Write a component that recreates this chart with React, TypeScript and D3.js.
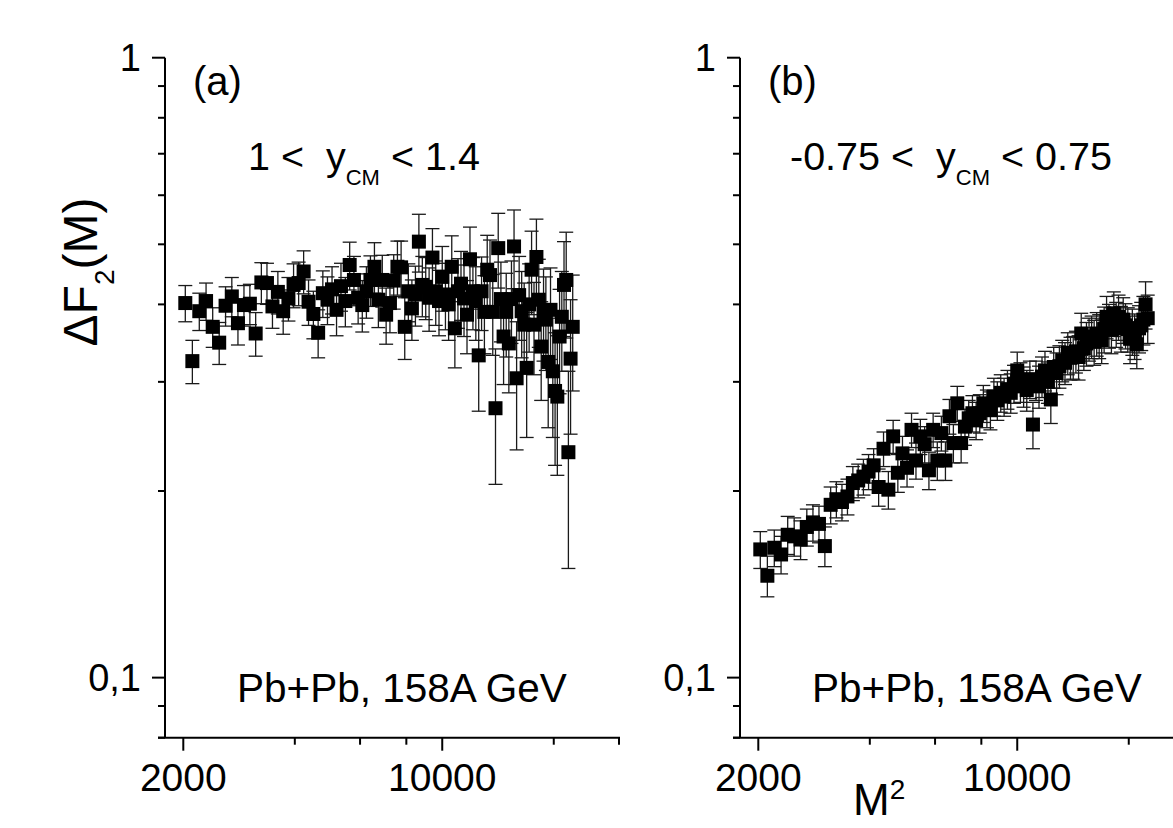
import React from 'react';
import * as d3 from 'd3';

// M values (number of bins); x axis shows M^2
const M_VALUES = [
  45, 46, 47, 48, 49, 50, 51, 52, 53, 54,
  55, 56, 57, 58, 59, 60, 61, 62, 63, 64,
  65, 66, 67, 68, 69, 70, 71, 72, 73, 74,
  75, 76, 77, 78, 79, 80, 81, 82, 83, 84,
  85, 86, 87, 88, 89, 90, 91, 92, 93, 94,
  95, 96, 97, 98, 99, 100, 101, 102, 103, 104,
  105, 106, 107, 108, 109, 110, 111, 112, 113, 114,
  115, 116, 117, 118, 119, 120, 121, 122, 123, 124,
  125, 126, 127, 128, 129, 130, 131, 132, 133, 134,
  135, 136, 137, 138, 139, 140, 141, 142, 143, 144,
  145, 146, 147, 148, 149, 150,
];

// Panel (a): 1 < y_CM < 1.4
const DF2_A = [
  0.402, 0.324, 0.390, 0.405, 0.368, 0.347, 0.398, 0.412, 0.373, 0.399,
  0.401, 0.359, 0.434, 0.433, 0.397, 0.419, 0.390, 0.409, 0.430, 0.433,
  0.452, 0.404, 0.386, 0.360, 0.417, 0.407, 0.423, 0.392, 0.428, 0.405,
  0.463, 0.438, 0.410, 0.399, 0.420, 0.438, 0.460, 0.407, 0.438, 0.385,
  0.402, 0.437, 0.460, 0.459, 0.368, 0.420, 0.394, 0.415, 0.505, 0.430,
  0.427, 0.410, 0.476, 0.420, 0.405, 0.443, 0.415, 0.400, 0.460, 0.366,
  0.420, 0.432, 0.409, 0.385, 0.473, 0.420, 0.405, 0.331, 0.420, 0.389,
  0.455, 0.446, 0.389, 0.272, 0.493, 0.408, 0.355, 0.389, 0.346, 0.408,
  0.496, 0.304, 0.414, 0.390, 0.371, 0.316, 0.400, 0.455, 0.371, 0.477,
  0.407, 0.342, 0.390, 0.378, 0.323, 0.392, 0.312, 0.290, 0.284, 0.355,
  0.382, 0.430, 0.438, 0.231, 0.327, 0.368,
];
const ERR_A = [
  0.027, 0.026, 0.027, 0.028, 0.027, 0.027, 0.029, 0.030, 0.029, 0.030,
  0.030, 0.029, 0.033, 0.033, 0.031, 0.033, 0.032, 0.033, 0.035, 0.035,
  0.036, 0.034, 0.034, 0.032, 0.036, 0.036, 0.037, 0.036, 0.038, 0.037,
  0.041, 0.040, 0.038, 0.038, 0.040, 0.041, 0.043, 0.040, 0.042, 0.040,
  0.042, 0.044, 0.046, 0.047, 0.042, 0.045, 0.044, 0.046, 0.054, 0.048,
  0.049, 0.048, 0.054, 0.050, 0.049, 0.053, 0.051, 0.050, 0.056, 0.050,
  0.054, 0.055, 0.054, 0.052, 0.060, 0.056, 0.055, 0.062, 0.057, 0.056,
  0.062, 0.062, 0.058, 0.067, 0.068, 0.060, 0.058, 0.060, 0.058, 0.062,
  0.072, 0.071, 0.064, 0.062, 0.062, 0.072, 0.065, 0.070, 0.063, 0.072,
  0.066, 0.062, 0.066, 0.065, 0.070, 0.066, 0.068, 0.070, 0.072, 0.068,
  0.070, 0.075, 0.085, 0.081, 0.080, 0.078,
];

// Panel (b): -0.75 < y_CM < 0.75
const DF2_B = [
  0.161, 0.146, 0.162, 0.158, 0.170, 0.169, 0.167, 0.175, 0.178, 0.177,
  0.163, 0.190, 0.194, 0.192, 0.196, 0.206, 0.208, 0.211, 0.215, 0.220,
  0.203, 0.234, 0.201, 0.245, 0.214, 0.230, 0.218, 0.251, 0.224, 0.245,
  0.238, 0.216, 0.251, 0.224, 0.248, 0.224, 0.264, 0.239, 0.277, 0.239,
  0.254, 0.262, 0.267, 0.260, 0.267, 0.277, 0.272, 0.270, 0.284, 0.280,
  0.288, 0.284, 0.292, 0.288, 0.298, 0.313, 0.300, 0.295, 0.291, 0.303,
  0.256, 0.302, 0.295, 0.306, 0.313, 0.300, 0.281, 0.317, 0.310, 0.318,
  0.325, 0.322, 0.334, 0.328, 0.329, 0.336, 0.329, 0.359, 0.340, 0.346,
  0.352, 0.355, 0.348, 0.359, 0.356, 0.350, 0.365, 0.382, 0.370, 0.364,
  0.387, 0.372, 0.382, 0.366, 0.378, 0.370, 0.365, 0.352, 0.362, 0.356,
  0.345, 0.366, 0.370, 0.378, 0.400, 0.380,
];
const ERR_B = [
  0.011, 0.011, 0.011, 0.011, 0.012, 0.012, 0.012, 0.012, 0.012, 0.012,
  0.012, 0.013, 0.013, 0.013, 0.013, 0.013, 0.013, 0.014, 0.014, 0.014,
  0.014, 0.015, 0.014, 0.015, 0.015, 0.015, 0.015, 0.016, 0.015, 0.016,
  0.016, 0.015, 0.016, 0.016, 0.016, 0.016, 0.017, 0.017, 0.018, 0.017,
  0.017, 0.018, 0.018, 0.018, 0.019, 0.019, 0.019, 0.019, 0.020, 0.020,
  0.020, 0.020, 0.021, 0.021, 0.021, 0.022, 0.022, 0.022, 0.022, 0.021,
  0.022, 0.022, 0.023, 0.023, 0.023, 0.023, 0.024, 0.024, 0.024, 0.025,
  0.025, 0.025, 0.026, 0.026, 0.026, 0.026, 0.027, 0.028, 0.027, 0.028,
  0.028, 0.028, 0.029, 0.029, 0.029, 0.029, 0.031, 0.030, 0.030, 0.031,
  0.032, 0.031, 0.032, 0.031, 0.032, 0.031, 0.030, 0.031, 0.031, 0.030,
  0.030, 0.032, 0.033, 0.034, 0.035, 0.034,
];

const X_MAJOR = [2000, 10000];
const X_MINOR = [4000, 6000, 8000, 20000, 30000];
const X_LABELS = ['2000', '10000'];
const Y_MAJOR = [0.1, 1];
const Y_MAJOR_LABELS = ['0,1', '1'];
const Y_MINOR = [0.08, 0.09, 0.2, 0.3, 0.4, 0.5, 0.6, 0.7, 0.8, 0.9];

const FONT = "'Liberation Sans', Arial, Helvetica, sans-serif";
const W = 1173;
const H = 828;

const yScale = d3.scaleLog().domain([0.08, 1]).range([737.7, 57.7]);

interface PanelProps {
  x0: number;
  vals: number[];
  errs: number[];
  tag: string;
  rangeLabel: string;
}

function Panel({ x0, vals, errs, tag, rangeLabel }: PanelProps) {
  const xScale = d3.scaleLog().domain([1785, 30000]).range([x0, x0 + 454]);
  const [yBot, yTop] = yScale.range();
  const xEnd = x0 + 455;
  const pts = M_VALUES.map((m, i) => ({ x: xScale(m * m), v: vals[i], e: errs[i] }));
  const cap = 7;
  const sq = 14;
  const neg = rangeLabel.startsWith('-');
  return (
    <g>
      {/* error bars */}
      <g stroke="#1a1a1a" strokeWidth={1.3}>
        {pts.map((p, i) => {
          const yHi = yScale(p.v + p.e);
          const yLo = yScale(Math.max(p.v - p.e, 0.0801));
          return (
            <g key={i}>
              <line x1={p.x} x2={p.x} y1={yHi} y2={yLo} />
              <line x1={p.x - cap} x2={p.x + cap} y1={yHi} y2={yHi} />
              <line x1={p.x - cap} x2={p.x + cap} y1={yLo} y2={yLo} />
            </g>
          );
        })}
      </g>
      {/* markers */}
      <g fill="#000">
        {pts.map((p, i) => (
          <rect key={i} x={p.x - sq / 2} y={yScale(p.v) - sq / 2} width={sq} height={sq} />
        ))}
      </g>
      {/* axes */}
      <g stroke="#000" strokeWidth={2} fill="none">
        <line x1={x0} x2={x0} y1={yTop} y2={yBot} />
        <line x1={x0 - 7} x2={xEnd} y1={yBot} y2={yBot} />
        {Y_MAJOR.map((v) => (
          <line key={'ym' + v} x1={x0 - 13} x2={x0} y1={yScale(v)} y2={yScale(v)} />
        ))}
        {Y_MINOR.map((v) => (
          <line key={'yn' + v} x1={x0 - 7} x2={x0} y1={yScale(v)} y2={yScale(v)} />
        ))}
        {X_MAJOR.map((v) => (
          <line key={'xm' + v} x1={xScale(v)} x2={xScale(v)} y1={yBot} y2={yBot + 13} />
        ))}
        {X_MINOR.map((v) => (
          <line key={'xn' + v} x1={xScale(v)} x2={xScale(v)} y1={yBot} y2={yBot + 7} />
        ))}
      </g>
      <g fontFamily={FONT} fill="#000">
        {Y_MAJOR.map((v, i) => (
          <text key={'yl' + v} x={x0 - 24} y={yScale(v) + 13} fontSize={38} textAnchor="end">
            {Y_MAJOR_LABELS[i]}
          </text>
        ))}
        {X_MAJOR.map((v, i) => (
          <text key={'xl' + v} x={xScale(v)} y={791} fontSize={39} textAnchor="middle">
            {X_LABELS[i]}
          </text>
        ))}
        <text x={x0 + 28} y={95} fontSize={40}>{tag}</text>
        <text x={x0 + 72} y={701.5} fontSize={40.5}>Pb+Pb, 158A GeV</text>
      </g>
      <text
        x={neg ? x0 + 50 : x0 + 83}
        y={170}
        fontFamily={FONT}
        fontSize={39.5}
        fill="#000"
        xmlSpace="preserve"
        style={{ whiteSpace: 'pre' }}
      >
        {rangeLabel + '  y'}
        <tspan fontSize={22} dy={15}>CM</tspan>
        <tspan dy={-15}>{neg ? ' < 0.75' : ' < 1.4'}</tspan>
      </text>
    </g>
  );
}

export default function App() {
  return (
    <svg
      width={W}
      height={H}
      viewBox={`0 0 ${W} ${H}`}
      style={{ position: 'absolute', left: 0, top: 0, background: '#fff', display: 'block' }}
    >
      <rect x={0} y={0} width={W} height={H} fill="#fff" />
      <Panel x0={165} vals={DF2_A} errs={ERR_A} tag="(a)" rangeLabel="1 <" />
      <Panel x0={740} vals={DF2_B} errs={ERR_B} tag="(b)" rangeLabel="-0.75 <" />
      {/* y-axis title */}
      <text
        transform="translate(97,272) rotate(-90)"
        fontFamily={FONT}
        fontSize={48}
        textAnchor="middle"
        fill="#000"
      >
        ΔF<tspan fontSize={28} dy={17}>2</tspan><tspan dy={-17}>(M)</tspan>
      </text>
      {/* x-axis title */}
      <text x={853} y={815} fontFamily={FONT} fontSize={44} fill="#000">
        M<tspan fontSize={28} dy={-16}>2</tspan>
      </text>
    </svg>
  );
}
